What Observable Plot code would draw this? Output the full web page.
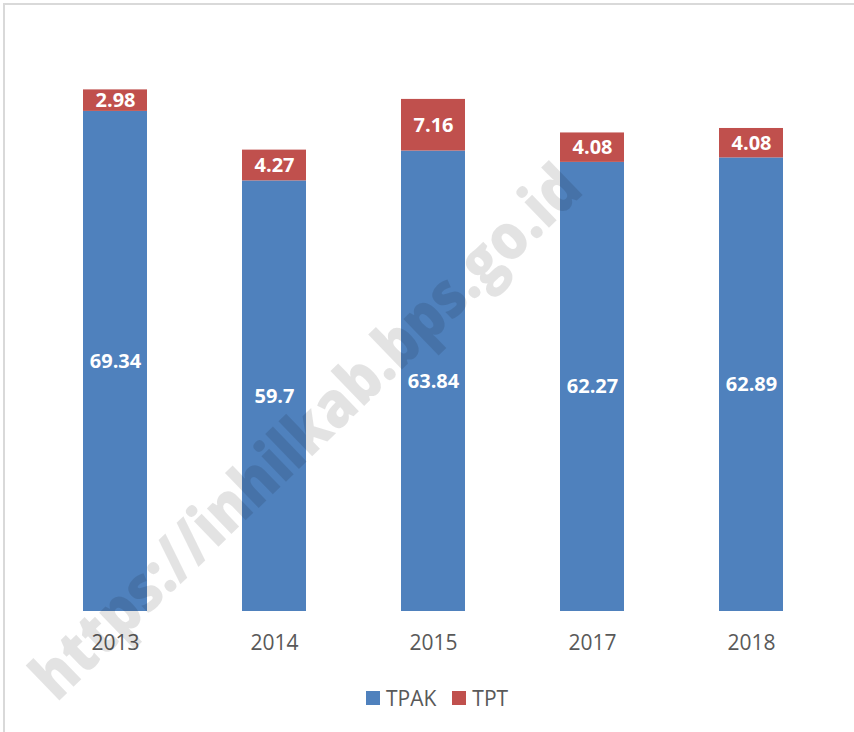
<!DOCTYPE html>
<html>
<head>
<meta charset="utf-8">
<script src="https://cdn.jsdelivr.net/npm/d3@7"></script>
<script src="https://cdn.jsdelivr.net/npm/@observablehq/plot@0.6"></script>
<style>
  html, body { margin: 0; padding: 0; overflow: hidden; background: #fff; }
  #wrap { position: relative; width: 854px; height: 732px; overflow: hidden; font-family: "Open Sans", sans-serif; }
  #frame { position: absolute; left: 3px; top: 3px; width: 900px; height: 800px; border: 2px solid #d9d9d9; pointer-events: none; }
  #plot { position: absolute; left: 0; top: 0; }
  #legend { position: absolute; left: 366px; top: 684px; display: flex; align-items: center; font-size: 21px; color: #595959; }
  #legend .item { display: flex; align-items: center; margin-right: 16px; }
  #legend .sw { width: 14px; height: 14px; margin-right: 6px; }
  #wm { position: absolute; left: 0; top: 0; pointer-events: none; }
</style>
</head>
<body>
<div id="wrap">
  <div id="frame"></div>
  <div id="plot"></div>
  <div id="legend"></div>
  <svg id="wm" width="854" height="732"></svg>
</div>
<script>
const years = ["2013", "2014", "2015", "2017", "2018"];
const tpak = [69.34, 59.7, 63.84, 62.27, 62.89];
const tpt = [2.98, 4.27, 7.16, 4.08, 4.08];
const series = ["TPAK", "TPT"];
const colors = ["#4f81bd", "#c0504d"];
const watermark = "https://inhilkab.bps.go.id";

const data = [
  ...years.map((y, i) => ({year: y, series: "TPAK", value: tpak[i]})),
  ...years.map((y, i) => ({year: y, series: "TPT", value: tpt[i]}))
];

const chart = Plot.plot({
  width: 854,
  height: 670,
  marginLeft: 34,
  marginRight: 23,
  marginTop: 34,
  marginBottom: 59,
  style: {fontFamily: "Open Sans, sans-serif", background: "transparent"},
  x: {domain: years, paddingInner: 0.6, paddingOuter: 0.3, label: null},
  y: {domain: [0, 80], axis: null},
  color: {domain: series, range: colors},
  marks: [
    Plot.barY(data, {x: "year", y: "value", fill: "series", z: "series"}),
    Plot.text(data, Plot.stackY({
      x: "year", y: "value", z: "series",
      text: d => String(d.value),
      fill: "white", fontWeight: "bold", fontSize: 20
    })),
    Plot.axisX({tickSize: 0, tickPadding: 24, fontSize: 21, color: "#595959", label: null})
  ]
});
document.getElementById("plot").appendChild(chart);

const legend = document.getElementById("legend");
series.forEach((s, i) => {
  const item = document.createElement("div");
  item.className = "item";
  const sw = document.createElement("div");
  sw.className = "sw";
  sw.style.background = colors[i];
  const t = document.createElement("span");
  t.textContent = s;
  item.appendChild(sw);
  item.appendChild(t);
  legend.appendChild(item);
});

const wm = d3.select("#wm");
wm.append("text")
  .attr("x", 0).attr("y", 0)
  .attr("transform", "translate(304,430) rotate(-44)")
  .attr("text-anchor", "middle")
  .attr("dominant-baseline", "central")
  .attr("font-family", "Open Sans, sans-serif")
  .attr("font-weight", "800")
  .attr("font-size", 64)
  .attr("textLength", 735)
  .attr("lengthAdjust", "spacingAndGlyphs")
  .attr("fill", "#000")
  .attr("fill-opacity", 0.11)
  .text(watermark);
</script>
</body>
</html>
